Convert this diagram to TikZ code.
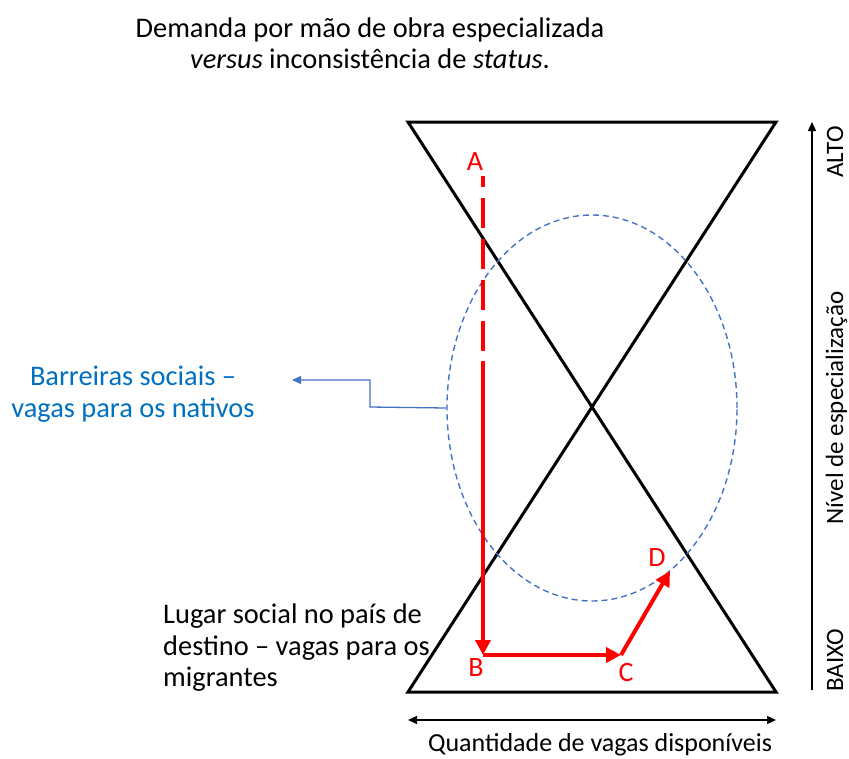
\documentclass[tikz,border=0pt]{standalone}
\usepackage{fontspec}
\setmainfont{Carlito}
\usetikzlibrary{arrows.meta,shapes.geometric}
\definecolor{txtblue}{RGB}{0,112,192}
\definecolor{lineblue}{RGB}{68,114,196}
\definecolor{myred}{RGB}{255,0,0}
\begin{document}
\begin{tikzpicture}[x=1pt,y=-1pt,
  txt/.style={font=\fontsize{28.4}{31.5}\selectfont, inner sep=0pt},
  axtxt/.style={font=\fontsize{25}{29}\selectfont, inner sep=0pt},
  ptlbl/.style={font=\fontsize{28}{31}\selectfont, inner sep=0pt, text=myred},
  glass/.style={line width=3pt, black},
  redline/.style={line width=4pt, myred},
  redtip/.style={-{Triangle[length=15pt,width=15pt]}},
  axis/.style={line width=1.3pt, black},
  bluelink/.style={line width=1.3pt, lineblue}
]
\useasboundingbox (0,0) rectangle (849,758);

% title
\node[txt, align=center] (title) at (370,43)
  {Demanda por mão de obra especializada\\\textit{versus} inconsistência de \textit{status}.};

% hourglass
\coordinate (tl) at (408,122);
\coordinate (tr) at (776,122);
\coordinate (bl) at (408,692);
\coordinate (br) at (776,692);
\draw[glass] (tl) -- (tr) -- (bl) -- (br) -- cycle;

% dashed ellipse
\node[draw=lineblue, line width=1.4pt, dash pattern=on 6pt off 4pt, ellipse,
      minimum width=290pt, minimum height=386pt, inner sep=0pt] (ell) at (592,408) {};

% blue label and connector
\node[txt, text=txtblue, align=center] (barr) at (133,394)
  {Barreiras sociais –\\vagas para os nativos};
\coordinate (bend) at (370,407);
\coordinate (btip) at (292,380);
\draw[bluelink, -{Triangle[length=9pt,width=8pt]}] (ell.west) -- (bend) |- (btip);

% black label
\node[txt, align=left, anchor=west] (lugar) at (163,648)
  {Lugar social no país de\\destino – vagas para os\\migrantes};

% red path
\coordinate (pa) at (483,176);
\coordinate (pm) at (483,356);
\coordinate (pm2) at (483,361);
\coordinate (pb) at (483,655);
\coordinate (pc) at (621,655);
\coordinate (pd) at (670,571);
\draw[redline, dash pattern=on 30pt off 11pt, dash phase=19pt] (pa) -- (pm);
\draw[redline, redtip] (pm2) -- (pb);
\draw[redline, redtip] (pb) -- (pc);
\draw[redline, redtip, line join=miter] (pc) -- (pd);

\node[ptlbl] (A) at (475,162) {A};
\node[ptlbl] (B) at (476,668) {B};
\node[ptlbl] (C) at (626,673) {C};
\node[ptlbl] (D) at (657,558) {D};

% vertical axis
\coordinate (vbot) at (812,690);
\coordinate (vtop) at (812,122);
\draw[axis, -{Triangle[length=9pt,width=8pt]}] (vbot) -- (vtop);
\node[axtxt, rotate=90, anchor=base] (alto) at (843,152) {ALTO};
\node[axtxt, rotate=90, anchor=base] (nivel) at (843,408) {Nível de especialização};
\node[axtxt, rotate=90, anchor=base] (baixo) at (843,660) {BAIXO};

% horizontal axis
\coordinate (hl) at (408,720);
\coordinate (hr) at (776,720);
\draw[axis, {Triangle[length=9pt,width=8pt]}-{Triangle[length=9pt,width=8pt]}] (hl) -- (hr);
\node[font=\fontsize{26}{30}\selectfont, inner sep=0pt, anchor=base] (quant) at (600,751) {Quantidade de vagas disponíveis};
\end{tikzpicture}
\end{document}
